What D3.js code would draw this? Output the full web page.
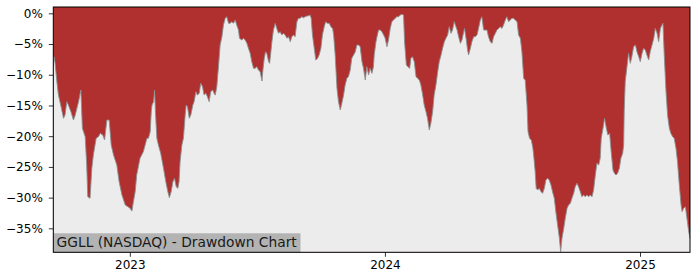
<!DOCTYPE html>
<html><head><meta charset="utf-8">
<script src="https://cdn.jsdelivr.net/npm/d3@7"></script>
<style>body{margin:0;background:#fff;} svg{display:block;}</style>
</head><body><svg id="c" width="700" height="280"></svg>
<script>
// decimal-year dates of each observation
const years = [
2022.700,2022.703,2022.707,2022.714,2022.720,2022.729,2022.740,2022.746,2022.753,2022.759,
2022.769,2022.779,2022.786,2022.799,2022.808,2022.814,2022.825,2022.831,2022.835,2022.844,
2022.851,2022.857,2022.868,2022.877,2022.884,2022.894,2022.901,2022.910,2022.919,2022.927,
2022.936,2022.949,2022.958,2022.969,2022.982,2022.992,2023.001,2023.008,2023.014,2023.021,
2023.027,2023.040,2023.053,2023.067,2023.073,2023.080,2023.084,2023.087,2023.093,2023.097,
2023.101,2023.106,2023.112,2023.121,2023.132,2023.141,2023.149,2023.155,2023.162,2023.169,
2023.175,2023.182,2023.188,2023.193,2023.197,2023.204,2023.210,2023.217,2023.221,2023.226,
2023.233,2023.239,2023.247,2023.252,2023.259,2023.265,2023.272,2023.278,2023.285,2023.291,
2023.298,2023.304,2023.311,2023.317,2023.325,2023.332,2023.335,2023.341,2023.348,2023.354,
2023.361,2023.367,2023.374,2023.380,2023.387,2023.393,2023.400,2023.406,2023.413,2023.419,
2023.426,2023.430,2023.439,2023.446,2023.452,2023.459,2023.465,2023.472,2023.478,2023.485,
2023.491,2023.498,2023.504,2023.511,2023.518,2023.521,2023.527,2023.532,2023.537,2023.544,
2023.548,2023.553,2023.557,2023.563,2023.570,2023.576,2023.583,2023.589,2023.596,2023.602,
2023.609,2023.616,2023.622,2023.629,2023.635,2023.642,2023.648,2023.655,2023.661,2023.668,
2023.674,2023.681,2023.687,2023.694,2023.701,2023.707,2023.711,2023.716,2023.723,2023.729,
2023.736,2023.742,2023.749,2023.755,2023.762,2023.768,2023.775,2023.782,2023.788,2023.795,
2023.799,2023.805,2023.812,2023.818,2023.825,2023.831,2023.838,2023.844,2023.851,2023.857,
2023.864,2023.870,2023.877,2023.884,2023.890,2023.897,2023.903,2023.910,2023.916,2023.923,
2023.929,2023.936,2023.942,2023.949,2023.955,2023.958,2023.965,2023.969,2023.975,2023.982,
2023.988,2023.995,2024.001,2024.008,2024.014,2024.021,2024.027,2024.034,2024.040,2024.047,
2024.054,2024.060,2024.067,2024.073,2024.077,2024.084,2024.090,2024.097,2024.102,2024.108,
2024.115,2024.122,2024.128,2024.135,2024.141,2024.148,2024.154,2024.161,2024.167,2024.174,
2024.180,2024.187,2024.193,2024.200,2024.207,2024.213,2024.220,2024.226,2024.233,2024.239,
2024.246,2024.252,2024.259,2024.265,2024.272,2024.276,2024.283,2024.289,2024.296,2024.302,
2024.309,2024.312,2024.318,2024.324,2024.328,2024.335,2024.341,2024.348,2024.354,2024.361,
2024.367,2024.374,2024.380,2024.387,2024.393,2024.400,2024.406,2024.413,2024.420,2024.426,
2024.433,2024.439,2024.446,2024.452,2024.459,2024.465,2024.472,2024.478,2024.485,2024.491,
2024.498,2024.504,2024.511,2024.518,2024.524,2024.531,2024.537,2024.544,2024.550,2024.557,
2024.561,2024.567,2024.574,2024.580,2024.583,2024.589,2024.593,2024.599,2024.605,2024.612,
2024.618,2024.625,2024.631,2024.638,2024.644,2024.651,2024.657,2024.664,2024.670,2024.677,
2024.684,2024.689,2024.694,2024.701,2024.707,2024.714,2024.720,2024.727,2024.733,2024.740,
2024.746,2024.753,2024.759,2024.766,2024.772,2024.779,2024.785,2024.792,2024.799,2024.805,
2024.812,2024.818,2024.825,2024.831,2024.838,2024.844,2024.848,2024.855,2024.861,2024.868,
2024.874,2024.881,2024.887,2024.894,2024.900,2024.906,2024.912,2024.919,2024.925,2024.932,
2024.936,2024.938,2024.942,2024.949,2024.955,2024.962,2024.968,2024.975,2024.982,2024.988,
2024.995,2025.001,2025.008,2025.014,2025.021,2025.027,2025.034,2025.040,2025.047,2025.054,
2025.060,2025.067,2025.073,2025.080,2025.086,2025.090,2025.095,2025.102,2025.108,2025.115,
2025.121,2025.128,2025.134,2025.141,2025.147,2025.154,2025.161,2025.165,2025.171,2025.178,
2025.184,2025.191,2025.196
];
// drawdown from running peak, percent
const drawdown = [
-7.0,-7.06,-8.14,-11.13,-13.30,-14.93,-17.09,-16.55,-14.38,-14.93,
-16.01,-17.37,-16.55,-14.38,-12.48,-18.72,-20.08,-24.69,-29.84,-30.11,
-25.23,-23.06,-20.35,-20.08,-19.54,-19.81,-20.62,-17.37,-17.37,-21.43,
-23.06,-24.69,-27.40,-29.57,-31.20,-31.47,-31.74,-32.20,-30.66,-29.03,
-26.32,-23.60,-22.52,-20.35,-20.35,-19.26,-16.01,-14.93,-14.38,-12.48,
-16.55,-20.35,-21.43,-22.79,-25.23,-27.40,-29.03,-30.01,-29.03,-27.40,
-26.86,-28.22,-28.49,-27.40,-24.15,-21.43,-20.35,-16.55,-14.93,-15.20,
-17.09,-16.55,-14.93,-14.38,-12.76,-13.30,-13.03,-11.40,-11.94,-13.30,
-13.03,-13.57,-14.38,-12.76,-12.48,-13.19,-13.30,-11.94,-8.42,-5.16,
-3.80,-1.90,-0.82,-0.55,-1.63,-1.63,-1.36,-1.63,-1.09,-1.90,
-2.72,-4.07,-4.34,-4.07,-4.34,-4.89,-5.70,-6.52,-7.87,-8.96,
-8.96,-8.69,-9.23,-9.50,-11.02,-9.50,-7.33,-6.25,-6.52,-7.87,
-8.14,-6.25,-4.62,-2.72,-1.63,-2.45,-3.26,-2.99,-3.53,-3.26,
-3.53,-4.07,-3.80,-4.62,-3.80,-3.53,-3.80,-1.36,-0.82,-0.82,
-0.55,-0.71,-0.55,-0.44,-0.39,-0.28,-0.82,-3.53,-5.70,-7.60,
-7.33,-6.79,-5.70,-3.53,-2.18,-1.36,-1.63,-1.63,-2.18,-2.45,
-3.53,-6.79,-12.21,-14.38,-15.74,-14.66,-13.30,-11.67,-10.58,-10.31,
-9.23,-7.33,-6.79,-6.25,-5.16,-5.16,-5.43,-7.87,-8.96,-10.86,
-8.69,-10.04,-8.96,-9.77,-8.69,-6.79,-4.62,-3.80,-2.72,-2.72,
-2.99,-3.53,-4.07,-5.43,-4.34,-2.45,-1.36,-1.09,-0.82,-0.55,
-0.55,-0.28,-0.17,-0.28,-4.62,-8.42,-8.69,-8.96,-7.33,-7.06,
-7.87,-10.31,-10.58,-10.86,-11.67,-13.30,-14.93,-16.01,-17.09,-18.99,
-17.91,-16.01,-13.30,-11.67,-9.50,-7.87,-6.79,-5.70,-4.62,-4.07,
-3.53,-2.18,-3.26,-2.72,-1.36,-1.90,-2.72,-3.80,-4.89,-4.34,
-2.99,-2.45,-4.07,-5.97,-6.79,-5.70,-4.62,-3.80,-3.80,-3.53,
-2.45,-1.09,-0.55,-2.72,-2.72,-2.72,-3.80,-4.62,-4.89,-3.80,
-3.26,-2.72,-2.45,-2.18,-2.45,-1.90,-1.09,-0.55,-1.36,-1.09,
-0.82,-0.82,-1.09,-1.36,-3.53,-4.07,-6.25,-10.58,-10.86,-14.93,
-19.26,-20.35,-20.62,-21.98,-23.06,-25.77,-28.49,-28.76,-28.49,-29.03,
-29.30,-28.49,-27.13,-26.86,-27.13,-27.94,-29.03,-30.11,-32.28,-34.46,
-36.63,-38.80,-36.63,-35.00,-33.37,-31.74,-31.20,-30.93,-30.11,-29.30,
-28.22,-27.67,-28.22,-29.03,-29.84,-29.57,-29.84,-29.57,-29.84,-29.57,
-29.84,-28.76,-26.32,-24.42,-24.69,-23.60,-20.35,-18.72,-17.09,-18.72,
-19.81,-19.54,-22.52,-25.50,-26.05,-26.32,-26.05,-25.23,-23.60,-22.79,
-21.43,-16.01,-11.13,-8.69,-6.52,-8.14,-7.06,-5.43,-5.16,-6.25,
-7.06,-7.87,-6.52,-5.70,-5.97,-6.79,-7.60,-6.25,-5.16,-4.07,
-2.45,-3.26,-4.62,-2.45,-1.90,-1.63,-6.79,-12.76,-16.55,-18.72,
-19.54,-20.08,-20.35,-21.98,-24.15,-27.94,-31.20,-32.28,-31.74,-31.47,
-33.37,-35.54,-36.63
];
const yTicks = [0, -5, -10, -15, -20, -25, -30, -35];
const xTicks = [2023, 2024, 2025];
const titleText = "GGLL (NASDAQ) - Drawdown Chart";

const data = years.map((t, i) => ({t, v: drawdown[i]}));
const L = 53.3, R = 690, T = 7, B = 252.3;
const svg = d3.select("#c");
const x = d3.scaleLinear().domain([years[0], years[years.length - 1]]).range([L, R]);
const y = d3.scaleLinear().domain([-38.9, 1.03]).range([B, T]);

svg.append("rect").attr("x", L).attr("y", T).attr("width", R - L).attr("height", B - T).attr("fill", "#b02f2f");

svg.append("path").datum(data)
  .attr("fill", "#ececec")
  .attr("d", d3.area().x(d => x(d.t)).y0(B).y1(d => y(d.v)));
svg.append("path").datum(data)
  .attr("fill", "none").attr("stroke", "#8f8f8f").attr("stroke-width", 0.9)
  .attr("d", d3.line().x(d => x(d.t)).y(d => y(d.v)));

const font = "DejaVu Sans";
const yAxis = svg.append("g").attr("transform", `translate(${L},0)`)
  .call(d3.axisLeft(y).tickValues(yTicks).tickSize(4.5).tickPadding(6)
    .tickFormat(d => d3.format(".0f")(d) + "%"));
const xAxis = svg.append("g").attr("transform", `translate(0,${B})`)
  .call(d3.axisBottom(x).tickValues(xTicks).tickSize(4.5).tickPadding(4)
    .tickFormat(d3.format("d")));
[yAxis, xAxis].forEach(g => {
  g.select(".domain").remove();
  g.selectAll("line").attr("stroke", "#000").attr("stroke-width", 0.8);
  g.selectAll("text").attr("font-family", font).attr("font-size", 12).attr("fill", "#000");
});

// title label box
const tg = svg.append("g");
const tt = tg.append("text").attr("x", L + 3.3).attr("y", B - 5.8)
  .attr("font-family", font).attr("font-size", 13.8).attr("fill", "#1a1a1a").text(titleText);
const tw = tt.node().getComputedTextLength();
tg.insert("rect", "text").attr("x", L).attr("y", B - 19).attr("width", tw + 7).attr("height", 19)
  .attr("fill", "#b3b3b3");

svg.append("rect").attr("x", L).attr("y", T).attr("width", R - L).attr("height", B - T)
  .attr("fill", "none").attr("stroke", "#000").attr("stroke-width", 1);
</script></body></html>
